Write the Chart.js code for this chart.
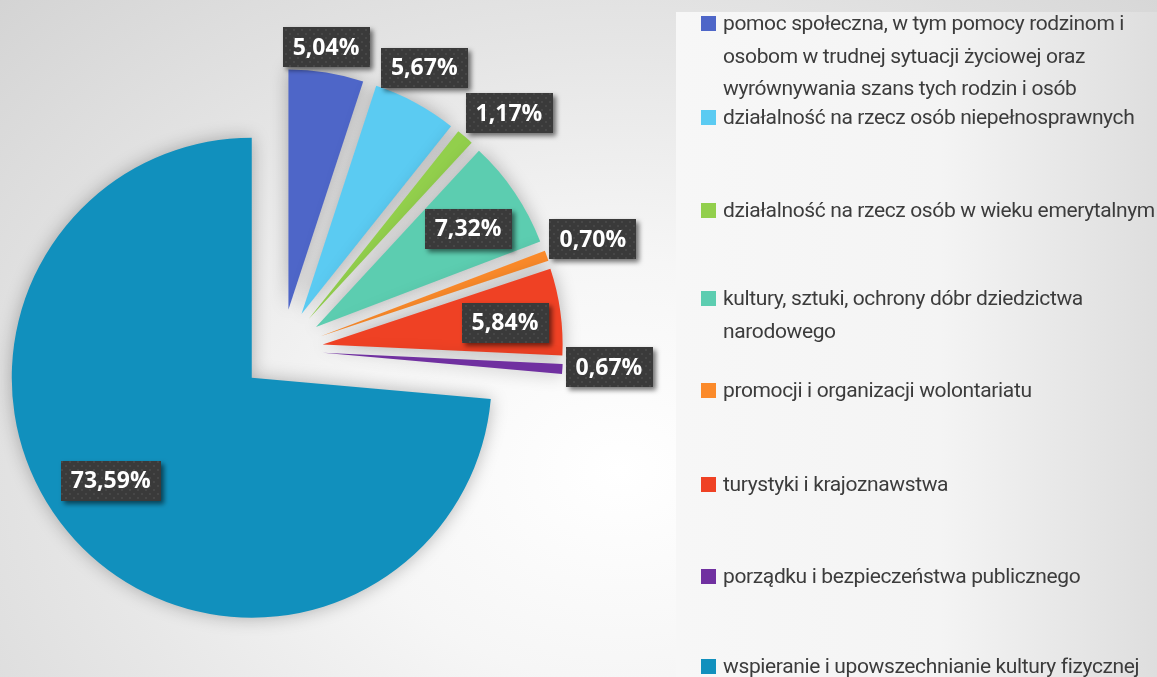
<!DOCTYPE html>
<html>
<head>
<meta charset="utf-8">
<script src="https://cdn.jsdelivr.net/npm/chart.js@4.4.0/dist/chart.umd.min.js"></script>
<style>
  html, body { margin: 0; padding: 0; }
  body {
    width: 1157px; height: 677px; overflow: hidden; position: relative;
    background: radial-gradient(ellipse 900px 700px at 620px 470px, #ffffff 0%, #f6f6f6 30%, #e6e6e6 60%, #d2d2d2 100%);
  }
  #chart { position: absolute; left: 0; top: 0; }
  #legend {
    position: absolute; left: 676px; top: 12px; width: 481px; height: 665px;
    background: linear-gradient(to right, #f7f7f7 0%, #f4f4f4 55%, #dedede 100%);
  }
  .item { position: absolute; left: 25px; width: 436px; padding-left: 22px;
    font-family: Roboto, sans-serif; font-size: 21px;
    line-height: 32.5px; color: #3c3c3c; }
  .item span.sw { position: absolute; left: 0; top: 9px; width: 15px; height: 15px; }
</style>
</head>
<body>
<canvas id="chart" width="1157" height="677"></canvas>
<div id="legend"></div>
<script>
const categories = [
  "pomoc społeczna, w tym pomocy rodzinom i osobom w trudnej sytuacji życiowej oraz wyrównywania szans tych rodzin i osób",
  "działalność na rzecz osób niepełnosprawnych",
  "działalność na rzecz osób w wieku emerytalnym",
  "kultury, sztuki, ochrony dóbr dziedzictwa narodowego",
  "promocji i organizacji wolontariatu",
  "turystyki i krajoznawstwa",
  "porządku i bezpieczeństwa publicznego",
  "wspieranie i upowszechnianie kultury fizycznej"
];
const shares = [5.04, 5.67, 1.17, 7.32, 0.70, 5.84, 0.67, 73.59];
const valueLabels = ["5,04%", "5,67%", "1,17%", "7,32%", "0,70%", "5,84%", "0,67%", "73,59%"];

const colors = ["#4E66C8", "#5BCBF2", "#92CF4C", "#5CCDB0", "#FB8A2A", "#EF4124", "#7030A0", "#1190BD"];
const explode = 41;
// value box placement: distance from the pie centre (fraction of radius) and turn from the slice middle (deg)
const labelRadius = [1.275, 1.317, 1.367, 0.925, 1.375, 0.936, 1.364, 0.898];
const labelTurn = [-0.8, -1.6, 3.1, 1.0, 0, 0.9, -0.9, 5.1];
const legendTops = [7, 101, 194, 282, 374, 468, 560, 650];

// squeeze the legend font so the longest single line is as wide as in the original
const mc = document.createElement("canvas").getContext("2d");
mc.font = "21px Roboto";
const refText = categories[2];
const spacing = (432 - mc.measureText(refText).width) / refText.length;

const legend = document.getElementById("legend");
categories.forEach((c, i) => {
  const d = document.createElement("div");
  d.className = "item";
  d.style.top = (legendTops[i] - 12) + "px";
  d.style.letterSpacing = spacing.toFixed(2) + "px";
  d.innerHTML = '<span class="sw" style="background:' + colors[i] + '"></span>' + c;
  legend.appendChild(d);
});

// dotted dark pattern for the value boxes
const pc = document.createElement("canvas");
pc.width = 8; pc.height = 8;
const px = pc.getContext("2d");
px.fillStyle = "#3a3a3a"; px.fillRect(0, 0, 8, 8);
px.fillStyle = "#474747"; px.fillRect(1, 1, 2, 2); px.fillRect(5, 5, 2, 2);

const explodedPie = {
  id: "explodedPie",
  beforeDatasetsDraw(chart) {
    const ctx = chart.ctx;
    const meta = chart.getDatasetMeta(0);
    ctx.save();
    ctx.shadowColor = "rgba(0,0,0,0.28)";
    ctx.shadowBlur = 18;
    meta.data.forEach(arc => {
      const mid = (arc.startAngle + arc.endAngle) / 2;
      ctx.save();
      ctx.translate(Math.cos(mid) * explode, Math.sin(mid) * explode);
      arc.draw(ctx);
      ctx.restore();
    });
    ctx.restore();
    return false;
  },
  afterDraw(chart) {
    const ctx = chart.ctx;
    const meta = chart.getDatasetMeta(0);
    const pattern = ctx.createPattern(pc, "repeat");
    ctx.save();
    ctx.font = "bold 23px 'Open Sans', sans-serif";
    ctx.textAlign = "center";
    ctx.textBaseline = "middle";
    meta.data.forEach((arc, i) => {
      const mid = (arc.startAngle + arc.endAngle) / 2 + labelTurn[i] * Math.PI / 180;
      const r = arc.outerRadius * labelRadius[i];
      const cx = arc.x + Math.cos(mid) * r;
      const cy = arc.y + Math.sin(mid) * r;
      const t = valueLabels[i];
      const w = ctx.measureText(t).width + 20;
      const h = 40;
      ctx.save();
      ctx.shadowColor = "rgba(0,0,0,0.55)";
      ctx.shadowBlur = 5;
      ctx.shadowOffsetX = 3;
      ctx.shadowOffsetY = 3;
      ctx.fillStyle = pattern;
      ctx.fillRect(Math.round(cx - w / 2), Math.round(cy - h / 2), Math.round(w), h);
      ctx.restore();
      ctx.fillStyle = "#ffffff";
      ctx.fillText(t, cx, cy + 1);
    });
    ctx.restore();
  }
};

new Chart(document.getElementById("chart"), {
  type: "pie",
  data: {
    labels: categories,
    datasets: [{
      data: shares,
      backgroundColor: colors,
      borderWidth: 0
    }]
  },
  options: {
    responsive: false,
    animation: false,
    radius: 240,
    layout: { padding: { left: 0, right: 593, top: 23, bottom: 0 } },
    plugins: {
      legend: { display: false },
      tooltip: { enabled: false }
    }
  },
  plugins: [explodedPie]
});
</script>
</body>
</html>
